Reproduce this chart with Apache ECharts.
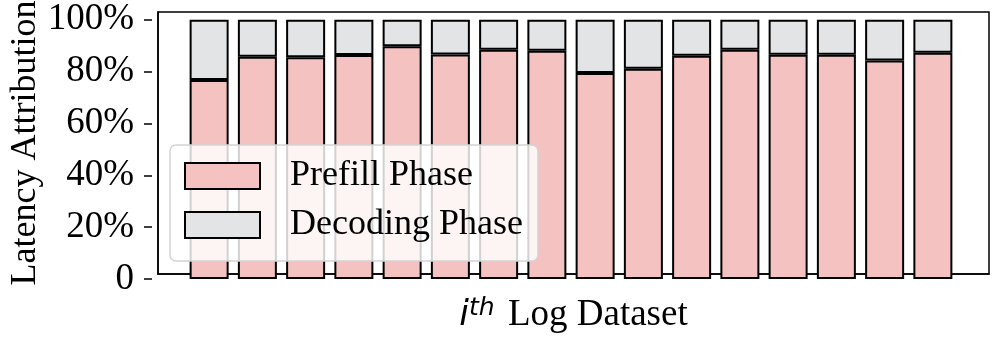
<!DOCTYPE html>
<html>
<head>
<meta charset="utf-8">
<script src="https://cdn.jsdelivr.net/npm/echarts@6/dist/echarts.min.js"></script>
<style>
html, body { margin: 0; padding: 0; background: #fff; }
#chart { width: 997px; height: 339px; }
</style>
</head>
<body>
<div id="chart"></div>
<script>
// share of latency per log dataset (%)
var datasets = ['1', '2', '3', '4', '5', '6', '7', '8', '9', '10', '11', '12', '13', '14', '15', '16'];
var prefill = [76.7, 85.7, 85.5, 86.4, 89.8, 86.6, 88.4, 88.0, 79.4, 81.1, 86.1, 88.4, 86.5, 86.5, 84.3, 87.3];
var decoding = [23.3, 14.3, 14.5, 13.6, 10.2, 13.4, 11.6, 12.0, 20.6, 18.9, 13.9, 11.6, 13.5, 13.5, 15.7, 12.7];

var serif = '"Liberation Serif", "DejaVu Serif", serif';

var myChart = echarts.init(document.getElementById('chart'));

var option = {
    backgroundColor: '#fff',
    animation: false,
    // grid 0 = frame + axis names, grid 1 = y ticks (0..100), grid 2 = bars
    grid: [{
        left: 152, right: 8, top: 6, bottom: 60,
        show: true,
        borderColor: '#000',
        borderWidth: 1.5
    }, {
        left: 152, right: 8, top: 19.7, bottom: 60
    }, {
        left: 185, right: 40, top: 19.7, bottom: 60
    }],
    legend: {
        orient: 'vertical',
        left: 170,
        top: 145,
        icon: 'rect',
        itemWidth: 75,
        itemHeight: 26,
        itemGap: 13,
        padding: [13, 15, 18, 14],
        backgroundColor: 'rgba(255,255,255,0.82)',
        borderColor: '#d4d4d4',
        borderWidth: 1.5,
        borderRadius: 6,
        textStyle: {
            fontFamily: serif,
            fontSize: 36,
            color: '#000',
            lineHeight: 26,
            padding: [0, 0, 0, 25]
        },
        data: ['Prefill Phase', 'Decoding Phase']
    },
    xAxis: [{
        gridIndex: 0,
        type: 'value',
        min: 0,
        max: 1,
        axisLabel: { show: false },
        axisTick: { show: false },
        splitLine: { show: false },
        axisLine: { lineStyle: { color: '#000', width: 1.5 } },
        name: '{i|i}{sup|th} Log Dataset',
        nameLocation: 'middle',
        nameGap: 22,
        nameTextStyle: {
            fontFamily: serif,
            fontSize: 37,
            color: '#000',
            rich: {
                i: { fontFamily: '"DejaVu Sans"', fontStyle: 'italic', fontSize: 35, color: '#000' },
                sup: { fontFamily: '"DejaVu Sans"', fontStyle: 'italic', fontSize: 25, color: '#000', verticalAlign: 'top', padding: [0, 4, 14, 0] }
            }
        }
    }, {
        gridIndex: 1,
        type: 'value',
        min: 0,
        max: 1,
        show: false
    }, {
        gridIndex: 2,
        type: 'category',
        data: datasets,
        axisLabel: { show: false },
        axisTick: { show: false },
        axisLine: { show: false }
    }],
    yAxis: [{
        gridIndex: 0,
        type: 'value',
        min: 0,
        max: 1,
        axisLabel: { show: false },
        axisTick: { show: false },
        splitLine: { show: false },
        axisLine: { show: true, lineStyle: { color: '#000', width: 1.5 } },
        name: 'Latency Attribution',
        nameLocation: 'middle',
        nameGap: 114,
        nameTextStyle: { fontFamily: serif, fontSize: 36, color: '#000' }
    }, {
        gridIndex: 1,
        type: 'value',
        min: 0,
        max: 100,
        interval: 20,
        splitLine: { show: false },
        axisLine: { show: false },
        axisTick: { show: true, inside: false, length: 8, lineStyle: { color: '#000', width: 1.5 } },
        axisLabel: {
            margin: 18,
            fontFamily: serif,
            fontSize: 37,
            color: '#000',
            formatter: function (v) { return v === 0 ? '0' : v + '%'; }
        }
    }, {
        gridIndex: 2,
        type: 'value',
        min: 0,
        max: 100,
        show: false
    }],
    series: [{
        name: 'Prefill Phase',
        type: 'bar',
        xAxisIndex: 2,
        yAxisIndex: 2,
        stack: 'total',
        barWidth: 39,
        data: prefill,
        itemStyle: { color: '#f5c2c2', borderColor: '#000', borderWidth: 2 }
    }, {
        name: 'Decoding Phase',
        type: 'bar',
        xAxisIndex: 2,
        yAxisIndex: 2,
        stack: 'total',
        barWidth: 39,
        data: decoding,
        itemStyle: { color: '#e3e4e6', borderColor: '#000', borderWidth: 2 }
    }]
};

myChart.setOption(option);

window.addEventListener('resize', function () {
    myChart.resize();
});
</script>
</body>
</html>
